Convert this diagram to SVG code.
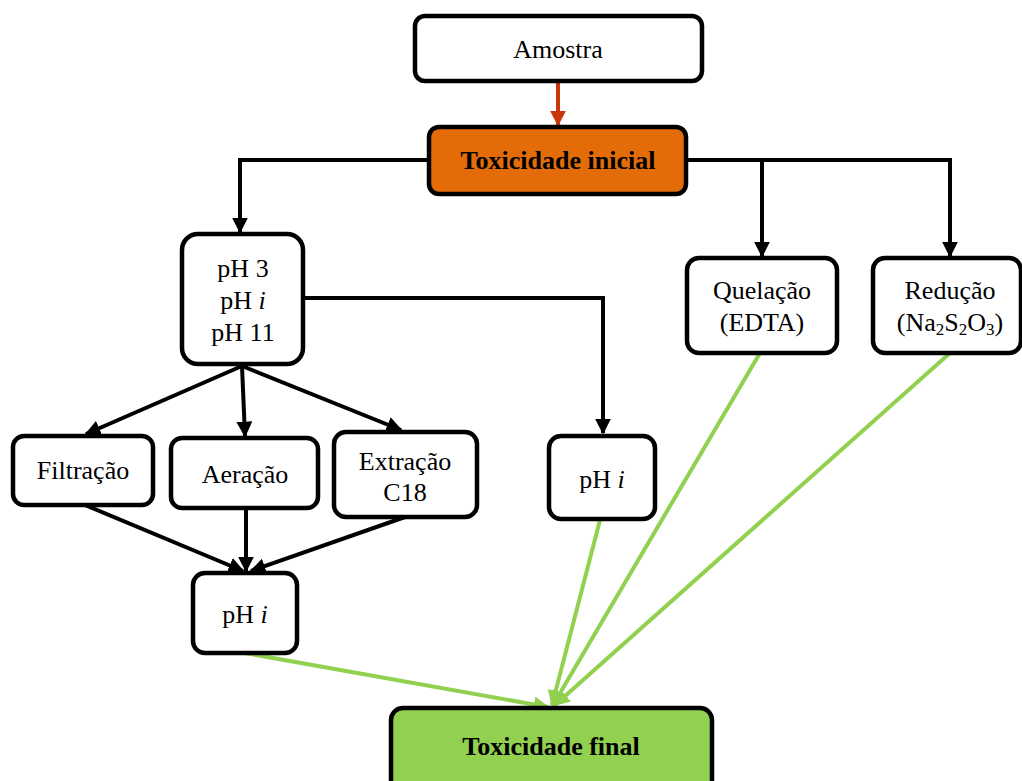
<svg xmlns="http://www.w3.org/2000/svg" width="1022" height="781" viewBox="0 0 1022 781">
<style>
.box{fill:#fff;stroke:#000;stroke-width:4.5}
.t{font-family:"Liberation Serif",serif;font-size:26px;fill:#000;text-anchor:middle}
.b{font-weight:bold}
.k{fill:none;stroke:#000;stroke-width:4}
.g{fill:none;stroke:#92D050;stroke-width:4}
.r{fill:none;stroke:#C9360A;stroke-width:4}
</style>
<defs>
<marker id="ak" markerWidth="4" markerHeight="4" refX="3.6" refY="2" orient="auto" markerUnits="strokeWidth"><path d="M0,0L4,2L0,4Z" fill="#000"/></marker>
<marker id="ag" markerWidth="4" markerHeight="4" refX="3.6" refY="2" orient="auto" markerUnits="strokeWidth"><path d="M0,0L4,2L0,4Z" fill="#92D050"/></marker>
<marker id="ar" markerWidth="4" markerHeight="4" refX="3.6" refY="2" orient="auto" markerUnits="strokeWidth"><path d="M0,0L4,2L0,4Z" fill="#C9360A"/></marker>
</defs>
<rect width="1022" height="781" fill="#fff"/>
<g id="connectors">
<path class="r" d="M558,82V125" marker-end="url(#ar)"/>
<path class="k" d="M428,160H240V232" marker-end="url(#ak)"/>
<path class="k" d="M687,160H950V256" marker-end="url(#ak)"/>
<path class="k" d="M762,160V256" marker-end="url(#ak)"/>
<path class="k" d="M303,298H603V433" marker-end="url(#ak)"/>
<path class="k" d="M242,366L86,434" marker-end="url(#ak)"/>
<path class="k" d="M242,366L245,436" marker-end="url(#ak)"/>
<path class="k" d="M242,366L401,430" marker-end="url(#ak)"/>
<path class="k" d="M85,505L243,571" marker-end="url(#ak)"/>
<path class="k" d="M246,508V571" marker-end="url(#ak)"/>
<path class="k" d="M405,517L251,571" marker-end="url(#ak)"/>
<path class="g" d="M245,653L548,707" marker-end="url(#ag)"/>
<path class="g" d="M600,520L552,705" marker-end="url(#ag)"/>
<path class="g" d="M760,353L553,705" marker-end="url(#ag)"/>
<path class="g" d="M950,353L555,705" marker-end="url(#ag)"/>
</g>
<g id="amostra"><rect class="box" x="415" y="16" width="287" height="65" rx="10"/><text class="t" x="558" y="58">Amostra</text></g>
<g id="toxinicial"><rect class="box" x="429" y="127" width="257" height="67" rx="10" style="fill:#E36C09"/><text class="t b" x="558" y="169">Toxicidade inicial</text></g>
<g id="ph"><rect class="box" x="182" y="234" width="121" height="130" rx="16"/><text class="t" x="243" y="277">pH 3</text><text class="t" x="243" y="309">pH <tspan font-style="italic">i</tspan></text><text class="t" x="243" y="341">pH 11</text></g>
<g id="quelacao"><rect class="box" x="687" y="258" width="150" height="95" rx="12"/><text class="t" x="762" y="299">Quelação</text><text class="t" x="762" y="331">(EDTA)</text></g>
<g id="reducao"><rect class="box" x="873" y="258" width="148" height="95" rx="12"/><text class="t" x="950" y="299">Redução</text><text class="t" x="950" y="331">(Na<tspan font-size="17" dy="4">2</tspan><tspan dy="-4">S</tspan><tspan font-size="17" dy="4">2</tspan><tspan dy="-4">O</tspan><tspan font-size="17" dy="4">3</tspan><tspan dy="-4">)</tspan></text></g>
<g id="filtracao"><rect class="box" x="13" y="436" width="140" height="69" rx="11"/><text class="t" x="83" y="479">Filtração</text></g>
<g id="aeracao"><rect class="box" x="171" y="438" width="147" height="70" rx="11"/><text class="t" x="245" y="483">Aeração</text></g>
<g id="extracao"><rect class="box" x="334" y="432" width="143" height="85" rx="12"/><text class="t" x="405" y="470">Extração</text><text class="t" x="405" y="501">C18</text></g>
<g id="phi2"><rect class="box" x="549" y="436" width="106" height="83" rx="12"/><text class="t" x="602" y="488">pH <tspan font-style="italic">i</tspan></text></g>
<g id="phi1"><rect class="box" x="193" y="573" width="104" height="80" rx="12"/><text class="t" x="245" y="623">pH <tspan font-style="italic">i</tspan></text></g>
<g id="toxfinal"><rect class="box" x="391" y="708" width="321" height="90" rx="12" style="fill:#92D050"/><text class="t b" x="551" y="755">Toxicidade final</text></g>
</svg>
